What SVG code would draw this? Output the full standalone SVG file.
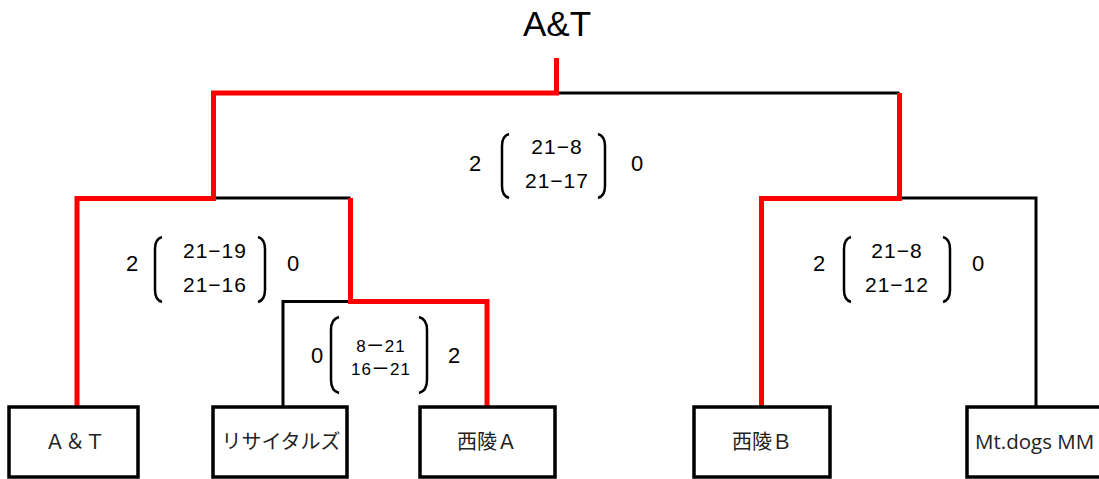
<svg xmlns="http://www.w3.org/2000/svg" width="1099" height="479" viewBox="0 0 1099 479">
<style>
.box{fill:#fff;stroke:#000;stroke-width:3.5}
.blk{fill:none;stroke:#000;stroke-width:3}
.red{fill:none;stroke:#ff0000;stroke-width:5}
.br{fill:none;stroke:#000;stroke-width:2.5}
.lbl{font-family:"Noto Sans CJK JP","Liberation Sans",sans-serif;font-size:20px;text-anchor:middle;fill:#222}
.sc{font-family:"Liberation Sans","Noto Sans CJK JP",sans-serif;font-size:21px;text-anchor:middle;fill:#000;letter-spacing:1px}
.sc2{font-family:"Liberation Sans","Noto Sans CJK JP",sans-serif;font-size:17px;text-anchor:middle;fill:#000;letter-spacing:1px}
.num{font-family:"Liberation Sans",sans-serif;font-size:22px;text-anchor:middle;fill:#000}
</style>
<text x="557" y="36" font-family="Liberation Sans, sans-serif" font-size="35" text-anchor="middle">A&amp;T</text>
<g id="connectors">
<path class="blk" d="M213.5 198H350.5"/>
<path class="blk" d="M350.5 301.5H283V406"/>
<path class="blk" d="M556.5 93H899.5"/>
<path class="blk" d="M899.5 198H1036V406"/>
<path class="red" d="M77 406V198.5H213.5V93H556.5V58"/>
<path class="red" d="M350.5 198V301.5H487V406"/>
<path class="red" d="M899.5 93V198.5H761.5V406"/>
</g>
<g id="node-at"><rect class="box" x="9" y="407" width="129" height="70"/><text class="lbl" x="75" y="449">Ａ＆Ｔ</text></g>
<g id="node-recitals"><rect class="box" x="213" y="407" width="134" height="70"/><text class="lbl" x="281" y="449">リサイタルズ</text></g>
<g id="node-seiryo-a"><rect class="box" x="420" y="407" width="135" height="70"/><text class="lbl" x="487" y="449">西陵Ａ</text></g>
<g id="node-seiryo-b"><rect class="box" x="694" y="407" width="136" height="70"/><text class="lbl" x="762" y="449">西陵Ｂ</text></g>
<g id="node-mtdogs"><rect class="box" x="967" y="407" width="140" height="70"/><text x="975" y="449" font-family="Open Sans, sans-serif" font-size="20.5" fill="#222">Mt.dogs MM</text></g>
<g id="score-final">
<text class="num" x="475" y="171">2</text>
<path class="br" d="M509 134Q502 136 502 146V186Q502 196 509 198"/>
<text class="sc" x="557" y="154">21−8</text>
<text class="sc" x="557" y="188">21−17</text>
<path class="br" d="M598 134Q605 136 605 146V186Q605 196 598 198"/>
<text class="num" x="637" y="171">0</text>
</g>
<g id="score-left">
<text class="num" x="132" y="271">2</text>
<path class="br" d="M162 237Q155 239 155 249V290Q155 300 162 302"/>
<text class="sc" x="215" y="258">21−19</text>
<text class="sc" x="215" y="292">21−16</text>
<path class="br" d="M258 237Q265 239 265 249V290Q265 300 258 302"/>
<text class="num" x="293" y="271">0</text>
</g>
<g id="score-right">
<text class="num" x="819" y="271">2</text>
<path class="br" d="M851 237Q844 239 844 249V290Q844 300 851 302"/>
<text class="sc" x="897" y="258">21−8</text>
<text class="sc" x="897" y="292">21−12</text>
<path class="br" d="M943 237Q950 239 950 249V290Q950 300 943 302"/>
<text class="num" x="978" y="271">0</text>
</g>
<g id="score-semi">
<text class="num" x="317" y="363">0</text>
<path class="br" d="M339 317Q331 319 331 330V380Q331 391 339 393"/>
<text class="sc2" x="381" y="352">8ー21</text>
<text class="sc2" x="381" y="375">16ー21</text>
<path class="br" d="M419 317Q427 319 427 330V380Q427 391 419 393"/>
<text class="num" x="454" y="363">2</text>
</g>
</svg>
